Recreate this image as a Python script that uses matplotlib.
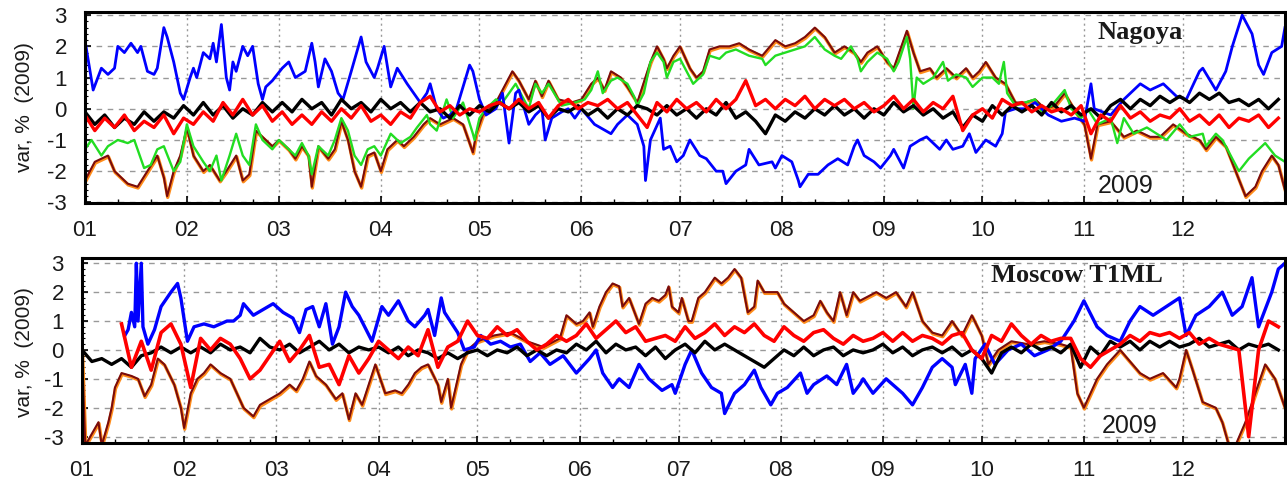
import numpy as np
import matplotlib
matplotlib.use('Agg')
import matplotlib.pyplot as plt
import matplotlib.patheffects as pe

plt.rcParams['font.family'] = ['Liberation Sans', 'DejaVu Sans']

# month starts (day of year 2009) and labels
MONTH_DAYS = [0, 31, 59, 90, 120, 151, 181, 212, 243, 273, 304, 334]
MONTH_LABELS = ['01', '02', '03', '04', '05', '06', '07', '08', '09', '10', '11', '12']
Y_TICKS = [-3, -2, -1, 0, 1, 2, 3]
STEP = 3  # day spacing of the noisy black / red series

# ---------------- Nagoya ----------------
nag_blue = [(0, 2.2), (2.5, 0.6), (5, 1.3), (7, 1.1), (9, 1.3), (10, 2.0), (12, 1.8), (14, 2.1), (16, 1.8),
            (17, 2.0), (19, 1.2), (21, 1.1), (22, 1.3), (24, 2.6), (25, 2.3), (27, 1.5), (29, 0.5), (30, 0.3),
            (32, 1.0), (33, 1.3), (34, 1.0), (36, 1.8), (38, 1.6), (39, 2.1), (40, 1.5), (41.5, 2.7), (43, 1.0),
            (44, 0.6), (45, 1.5), (46, 1.2), (48, 2.0), (49.5, 1.7), (51, 2.0), (52.7, 0.8), (54, 0.3), (55, 0.7),
            (57, 0.9), (60, 1.3), (62, 1.5), (64, 1.0), (67, 1.2), (69, 2.1), (70, 1.5), (71, 0.7), (73, 1.6),
            (75, 1.2), (77, 0.5), (78.5, 0.3), (81, 1.2), (84, 2.3), (85.5, 1.5), (88, 1.0), (89, 1.3), (91, 2.0),
            (93, 0.7), (95, 1.3), (98, 0.8), (100, 0.5), (102, 0.2), (104, 0.5), (105, 0.8), (107, 0.0),
            (109, -0.3), (111, -0.2), (113, 0.0), (117, 1.4), (118, 1.2), (120, 0.3), (122, -0.2), (125, 0.0),
            (127, 0.5), (129, -1.1), (131, 0.5), (132, 0.6), (135, -0.5), (137, -0.2), (139, 0.0), (140, -1.0),
            (142, -0.3), (145, -0.1), (147, 0.0), (149, -0.3), (151, 0.0), (155, -0.5), (160, -0.8), (162, -0.5),
            (165, -0.2), (168, -0.5), (170, -1.2), (170.5, -2.3), (172, -1.0), (175, -0.3), (176, -1.3),
            (178, -1.2), (180, -1.7), (182, -1.5), (184, -1.0), (187, -1.5), (189, -1.6), (192, -2.0),
            (194, -2.0), (195, -2.4), (198, -2.0), (201, -1.8), (202, -1.3), (205, -1.8), (209, -1.7),
            (210, -1.9), (212, -1.5), (215, -1.7), (217, -2.3), (217.5, -2.5), (220, -2.1), (223, -2.1),
            (226, -1.8), (229, -1.6), (232, -1.8), (234, -1.2), (235, -1.0), (237, -1.5), (240, -1.7),
            (242, -1.9), (245, -1.5), (246, -1.3), (249, -1.9), (251, -1.2), (254, -1.0), (256, -0.9),
            (260, -1.3), (262, -1.0), (264, -1.3), (267, -1.2), (269, -0.8), (271, -1.4), (274, -1.0),
            (277, -1.2), (279, -0.8), (280, -0.1), (283, 0.0), (286, 0.0), (289, 0.2), (293, -0.2), (297, -0.4),
            (301, -0.3), (304, -0.4), (306, 0.8), (307, 0.0), (312, -0.2), (316, 0.3), (318, 0.5), (321, 0.8),
            (324, 0.6), (328, 0.8), (332, 0.4), (335, 0.3), (339, 1.2), (340, 1.3), (344, 0.6), (347, 1.2),
            (349, 2.0), (352, 3.0), (355, 2.4), (357, 1.4), (358.5, 1.1), (361, 1.8), (364, 2.0), (365, 2.6)]

nag_green = [(0, -1.3), (2, -1.0), (5, -1.5), (7, -1.2), (10, -1.0), (13, -1.1), (15, -1.0), (18, -1.9),
             (20, -1.8), (22, -1.3), (24, -1.2), (27, -2.0), (29, -1.7), (31, -0.5), (33, -1.2), (36, -1.7),
             (38, -2.0), (40, -1.5), (41.5, -2.3), (44, -1.5), (46, -0.8), (48, -1.5), (50, -1.8), (52, -0.5),
             (54, -1.0), (57, -1.3), (59, -1.0), (62, -1.3), (64, -1.5), (66, -1.1), (68, -1.5), (69, -2.1),
             (71, -1.2), (74, -1.5), (76, -1.0), (78, -0.3), (80, -0.7), (82, -1.5), (84, -1.8), (86, -1.3),
             (88, -1.2), (90, -1.5), (93, -0.8), (96, -1.1), (99, -0.9), (101, -0.6), (104, -0.2), (105, -0.5),
             (107, -0.7), (110, 0.3), (112, -0.3), (115, 0.2), (118, -0.8), (118.5, -1.0), (120, -0.3),
             (122, 0.0), (125, 0.3), (127, 0.2), (131, 0.8), (132, 0.6), (134, 0.2), (135, 0.0), (137, 0.8),
             (139, 0.5), (141, 0.8), (145, 0.1), (149, 0.2), (152, 0.3), (154, 0.6), (156, 1.2), (157.5, 0.5),
             (160, 0.9), (162, 1.0), (165, 0.8), (167, 0.4), (168, 0.1), (170, 0.5), (172, 1.5), (174, 1.8),
             (176, 1.5), (177, 1.0), (179, 1.5), (181, 1.6), (183, 1.2), (185, 0.8), (188, 1.1), (190, 1.7),
             (193, 1.6), (195, 1.8), (198, 1.9), (202, 1.7), (206, 1.6), (207, 1.4), (210, 1.7), (213, 1.8),
             (216, 1.9), (219, 2.0), (222, 2.3), (225, 1.9), (228, 1.7), (230, 1.6), (233, 2.0), (235, 1.6),
             (236, 1.2), (238, 1.5), (241, 1.8), (244, 1.6), (246, 1.2), (247.5, 1.5), (250, 2.3), (251, 1.6),
             (252, 0.0), (253, 1.0), (255, 0.8), (258, 1.0), (261, 1.5), (262.5, 0.9), (265, 1.1), (268, 1.0),
             (270, 0.7), (273, 1.0), (276, 1.0), (278, 0.8), (279.5, 1.5), (280.5, 0.5), (283, 0.1), (286, 0.2),
             (289, 0.3), (291, -0.1), (294, 0.1), (298, 0.6), (300, 0.0), (303, -0.3), (305, 0.0), (308, -0.5),
             (312, -0.3), (314, -1.1), (316, -0.3), (319, -0.8), (323, -0.6), (326, -0.8), (329, -1.0),
             (333, -0.5), (336, -0.9), (340, -0.8), (341, -1.2), (344, -0.8), (346, -1.0), (348, -1.4),
             (351, -2.0), (354, -1.6), (359, -1.1), (362, -1.5), (365, -1.7)]

nag_brown = [(0, -2.3), (3, -1.7), (5, -1.6), (7, -1.5), (9, -2.0), (13, -2.4), (16, -2.5), (19, -2.0),
             (22, -1.5), (24, -2.2), (25, -2.8), (27, -2.0), (29, -1.5), (31, -0.6), (33, -1.5), (36, -2.0),
             (38, -1.8), (41, -2.3), (43, -2.0), (46, -1.5), (48, -2.3), (50, -2.1), (52, -0.7), (55, -1.0),
             (57, -1.2), (59, -1.0), (62, -1.3), (64, -1.6), (66, -1.2), (68, -1.5), (69, -2.5), (71, -1.2),
             (74, -1.6), (76, -1.3), (78, -0.4), (80, -1.0), (82, -2.0), (84, -2.5), (86, -1.5), (88, -1.4),
             (90, -2.0), (92, -1.3), (95, -1.0), (97, -1.2), (100, -0.9), (103, -0.5), (105, -0.3), (108, -0.5),
             (112, -0.3), (115, -0.5), (118, -1.4), (119, -0.8), (121, -0.2), (125, 0.2), (130, 1.2), (132, 0.9),
             (135, 0.3), (137, 0.9), (139, 0.4), (141, 0.9), (144, 0.3), (148, 0.2), (151, 0.3), (154, 0.8),
             (156, 1.0), (158, 0.6), (160, 1.2), (163, 1.0), (165, 0.7), (168, 0.2), (172, 1.5), (174, 2.0),
             (176, 1.6), (177, 1.3), (179, 1.7), (181, 2.0), (184, 1.3), (186, 1.0), (188, 1.2), (190, 1.9),
             (193, 2.0), (196, 2.0), (199, 2.1), (202, 1.9), (206, 1.7), (210, 2.2), (213, 2.0), (216, 2.1),
             (219, 2.3), (222, 2.6), (225, 2.3), (228, 1.8), (231, 2.0), (234, 1.8), (236, 1.5), (238, 1.8),
             (241, 2.0), (244, 1.5), (246, 1.3), (250, 2.5), (252, 1.8), (254, 1.2), (257, 1.3), (259, 1.0),
             (262, 1.3), (265, 1.0), (268, 1.3), (270, 1.0), (272, 1.2), (274, 1.5), (277, 1.0), (280, 0.8),
             (283, 0.2), (286, 0.2), (289, 0.3), (292, 0.0), (295, 0.1), (298, 0.5), (302, -0.2), (304, -0.5),
             (306, -1.6), (308, -0.5), (312, -0.4), (316, -0.9), (320, -0.7), (324, -0.9), (327, -0.9),
             (331, -0.5), (335, -0.8), (339, -1.0), (341, -1.3), (344, -0.9), (347, -1.2), (350, -2.0),
             (353, -2.8), (356, -2.5), (358, -2.0), (361, -1.5), (363, -1.8), (365, -2.6)]

# black / red: one value every 3 days, 10 values (30 days) per row
nag_black = [-0.1, -0.5, -0.2, -0.6, -0.3, -0.5, -0.1, -0.4, -0.1, -0.3,
             0.1, -0.2, 0.2, -0.2, 0.1, -0.3, 0.0, -0.2, 0.2, -0.1,
             0.2, -0.1, 0.3, 0.0, 0.2, -0.2, 0.3, 0.0, 0.2, -0.1,
             0.3, 0.0, 0.2, -0.1, 0.2, -0.1, 0.0, -0.3, 0.1, -0.2,
             0.1, -0.1, 0.2, 0.0, 0.2, -0.1, 0.1, -0.3, 0.0, -0.1,
             0.1, -0.2, 0.0, -0.3, 0.0, -0.2, 0.1, 0.0, -0.2, 0.1,
             -0.2, 0.0, -0.3, 0.0, -0.2, 0.2, -0.3, -0.1, -0.4, -0.8,
             -0.2, -0.4, -0.1, -0.3, 0.0, -0.2, 0.1, -0.2, 0.0, -0.3,
             0.0, -0.2, 0.2, -0.1, 0.1, -0.2, 0.0, -0.3, -0.1, -0.6,
             -0.2, -0.4, 0.1, -0.2, 0.1, -0.1, 0.1, -0.2, 0.2, -0.1,
             0.1, -0.2, 0.0, -0.3, 0.1, 0.3, 0.0, 0.3, 0.1, 0.4,
             0.2, 0.4, 0.2, 0.5, 0.3, 0.5, 0.2, 0.3, 0.1, 0.3,
             0.0, 0.3]

nag_red = [-0.2, -0.7, -0.3, -0.6, -0.2, -0.7, -0.4, -0.6, -0.2, -0.8,
           -0.3, -0.5, -0.1, -0.4, 0.2, -0.2, 0.3, -0.2, 0.1, -0.4,
           -0.1, -0.5, -0.2, -0.5, -0.1, -0.4, 0.0, -0.3, 0.1, -0.4,
           -0.2, -0.5, -0.1, -0.3, 0.2, 0.4, -0.1, 0.1, -0.2, 0.0,
           -0.1, 0.1, 0.2, 0.0, 0.3, 0.0, 0.2, -0.3, 0.1, 0.3,
           0.0, 0.2, 0.1, 0.3, 0.0, 0.2, -0.2, -0.6, 0.2, -0.1,
           0.3, 0.0, 0.2, -0.1, 0.3, 0.0, 0.3, 0.9, 0.1, 0.3,
           0.0, 0.3, 0.1, 0.4, 0.0, 0.3, 0.1, 0.3, 0.0, 0.2,
           -0.1, 0.1, 0.4, 0.0, 0.3, -0.1, 0.2, 0.0, 0.4, -0.7,
           -0.2, 0.0, -0.3, 0.3, 0.1, 0.2, -0.1, 0.1, -0.1, 0.0,
           -0.2, 0.1, -0.8, -0.2, -0.4, 0.1, -0.3, -0.1, -0.4, -0.2,
           -0.3, 0.0, -0.4, -0.2, -0.5, -0.2, -0.6, -0.3, -0.4, -0.2,
           -0.6, -0.3]

# ---------------- Moscow T1ML ----------------
mos_blue = [(13, 0.5), (14, 0.7), (15, 1.3), (16, 0.8), (16.5, 3.0), (17, 1.0), (18, 3.0), (18.5, 0.8),
            (20, 0.2), (22, 0.7), (24, 1.5), (27, 2.0), (29, 2.3), (30, 1.8), (32, 0.3), (34, 0.8), (37, 0.9),
            (40, 0.8), (44, 1.0), (46, 1.0), (48, 1.2), (49, 1.6), (52, 1.2), (55, 1.4), (58, 1.6), (61, 1.3),
            (64, 1.1), (66, 0.6), (68, 1.4), (70, 1.5), (72, 0.8), (74, 1.6), (76, 0.2), (78, 0.8), (80, 2.0),
            (82, 1.5), (84, 1.2), (88, 0.3), (91, 1.5), (93, 1.2), (96, 1.7), (99, 1.0), (101, 0.8), (104, 1.2),
            (105, 1.4), (107, 0.5), (109, 1.8), (110, 1.3), (114, 0.6), (116, 0.0), (119, 0.1), (121, 0.5),
            (124, 0.2), (127, 0.3), (130, 0.1), (133, 0.2), (136, -0.4), (139, -0.1), (142, -0.5), (146, -0.2),
            (150, -0.8), (154, -0.3), (156, 0.0), (158, -0.8), (161, -1.3), (163, -1.0), (166, -1.3),
            (169, -0.5), (172, -1.0), (176, -1.4), (179, -1.2), (180, -1.5), (183, -0.5), (185, 0.0),
            (188, -0.8), (191, -1.3), (194, -1.5), (195, -2.2), (198, -1.5), (201, -1.2), (204, -0.7),
            (206, -1.3), (209, -1.9), (211, -1.5), (214, -1.3), (218, -0.8), (220, -1.5), (222, -1.2),
            (226, -0.9), (229, -1.2), (232, -0.5), (234, -1.5), (236, -1.2), (237, -1.0), (240, -1.5),
            (244, -1.0), (249, -1.5), (252, -1.9), (255, -1.3), (258, -0.6), (261, -0.3), (264, -0.6),
            (265, -1.2), (268, -0.5), (270, -1.5), (271, -0.3), (274, 0.2), (277, -0.5), (281, 0.0), (285, 0.2),
            (289, -0.2), (293, 0.0), (297, 0.3), (301, 1.0), (304, 1.7), (308, 0.8), (311, 0.5), (315, 0.3),
            (318, 1.0), (321, 1.5), (325, 1.2), (329, 1.5), (333, 1.8), (335, 0.5), (338, 1.2), (342, 1.5),
            (346, 2.0), (349, 1.2), (352, 1.5), (355, 2.5), (357, 0.8), (361, 2.0), (363, 2.8), (365, 3.0)]

mos_brown = [(0, 0.0), (1, -3.3), (5, -2.5), (6, -3.3), (8, -2.5), (9, -2.0), (10, -1.3), (12, -0.8),
             (15, -0.9), (17, -1.0), (19, -1.6), (21, -1.2), (23, -0.3), (25, -0.5), (28, -1.2), (30, -2.0),
             (31, -2.7), (33, -1.5), (35, -1.0), (37, -0.8), (39, -0.5), (42, -0.8), (45, -1.0), (47, -1.5),
             (49, -2.0), (52, -2.3), (54, -1.9), (57, -1.7), (60, -1.5), (63, -1.2), (65, -1.4), (67, -1.0),
             (69, -0.4), (71, -0.9), (74, -1.2), (77, -1.7), (79, -1.5), (81, -2.4), (83, -1.5), (85, -1.9),
             (87, -1.2), (89, -0.5), (92, -1.5), (95, -1.4), (97, -1.5), (99, -1.2), (101, -0.8), (103, -0.6),
             (105, -0.5), (108, -1.2), (109, -1.8), (111, -1.0), (112, -2.0), (113, -1.5), (115, -0.5),
             (117, 0.0), (120, 0.3), (125, 0.5), (130, 0.6), (135, 0.3), (140, 0.1), (145, 0.4), (147, 1.2),
             (150, 0.9), (152, 1.0), (154, 1.3), (155, 0.8), (157, 1.5), (159, 2.0), (161, 2.3), (163, 2.2),
             (164, 1.5), (166, 1.8), (168, 1.2), (169, 0.9), (171, 1.6), (173, 1.8), (175, 1.7), (177, 1.9),
             (178, 2.2), (179, 1.5), (181, 1.3), (182, 1.8), (184, 1.0), (185, 1.0), (187, 1.8), (189, 2.0),
             (192, 2.5), (194, 2.3), (196, 2.5), (198, 2.8), (200, 2.5), (202, 1.3), (204, 1.5), (205, 2.4),
             (207, 2.0), (209, 2.0), (211, 2.0), (213, 1.6), (216, 1.3), (219, 1.0), (222, 1.2), (224, 1.7),
             (226, 1.3), (228, 1.0), (230, 2.0), (232, 1.2), (234, 2.0), (236, 1.7), (241, 2.0), (244, 1.8),
             (247, 2.0), (250, 1.5), (252, 2.0), (255, 1.0), (258, 0.6), (261, 0.5), (264, 1.0), (267, 0.5),
             (270, 1.2), (273, 0.5), (275, -0.5), (278, 0.0), (282, 0.3), (287, 0.2), (292, 0.3), (297, 0.2),
             (300, 0.1), (302, -1.5), (304, -2.0), (306, -1.5), (308, -1.0), (311, -0.5), (315, 0.0),
             (318, -0.4), (321, -0.8), (324, -1.0), (328, -0.8), (332, -1.3), (333, -1.0), (335, 0.0),
             (337, -0.7), (340, -1.8), (344, -2.0), (346, -2.5), (348, -3.3), (350, -3.3), (353, -2.5),
             (356, -1.5), (359, -0.5), (362, -1.0), (365, -2.0)]

mos_black = [0.0, -0.4, -0.3, -0.5, -0.3, -0.6, -0.2, -0.1, 0.1, -0.1,
             0.1, -0.1, 0.1, -0.1, 0.2, 0.0, 0.1, -0.1, 0.4, 0.1,
             0.0, 0.2, -0.1, 0.1, 0.3, 0.0, 0.2, -0.1, 0.1, 0.0,
             0.1, -0.1, 0.1, -0.2, 0.0, -0.1, -0.3, -0.1, -0.3, -0.1,
             0.0, -0.2, 0.0, -0.1, 0.1, -0.2, 0.0, -0.2, 0.0, -0.1,
             0.2, 0.0, 0.3, -0.1, 0.2, 0.0, 0.1, -0.2, 0.1, -0.3,
             0.0, 0.2, -0.1, 0.3, 0.0, 0.2, 0.0, -0.2, -0.4, -0.6,
             -0.3, 0.0, -0.2, 0.1, -0.2, 0.0, 0.1, -0.2, 0.0, -0.1,
             0.0, 0.2, -0.1, 0.1, -0.2, 0.0, 0.1, -0.1, 0.1, -0.2,
             0.0, -0.3, -0.8, -0.1, 0.1, -0.1, 0.2, 0.0, 0.1, -0.1,
             0.2, -0.6, 0.1, -0.2, 0.3, 0.1, 0.3, 0.0, 0.3, 0.1,
             0.3, 0.1, 0.2, 0.4, 0.1, 0.2, 0.3, 0.0, 0.2, 0.1,
             0.2, 0.0]

mos_red = [np.nan, np.nan, np.nan, np.nan, 0.9, -0.6, 0.3, -0.7, 0.6, 0.9,
           0.2, -1.3, 0.4, 0.0, 0.4, 0.2, -0.3, -1.0, -0.7, -0.2,
           0.3, -0.4, 0.0, 0.5, -0.6, -0.5, -1.2, -0.2, -0.8, -0.3,
           0.3, 0.0, -0.3, 0.1, -0.2, 0.7, -0.6, 0.1, 0.3, 1.0,
           0.5, 0.4, 0.8, 0.5, 0.7, 0.3, 0.0, 0.2, 0.5, 0.3,
           0.5, 0.9, 0.4, 0.7, 1.0, 0.6, 0.8, 0.3, 0.4, 0.5,
           0.3, 0.8, 0.4, 0.6, 0.9, 0.5, 0.8, 0.6, 0.9, 0.5,
           0.3, 0.8, 0.5, 0.3, 0.6, 0.7, 0.4, 0.2, 0.5, 0.3,
           0.4, 0.6, 0.3, 0.6, 0.3, 0.5, 0.4, 0.2, 0.5, 0.6,
           0.0, -0.3, 0.5, 0.3, 0.9, 0.5, 0.2, 0.5, 0.3, 0.4,
           0.4, -0.3, -0.6, -0.2, 0.0, 0.2, 0.5, 0.3, 0.6, 0.5,
           0.6, 0.4, 0.6, 0.2, 0.4, 0.2, 0.1, 0.0, -3.0, 0.0,
           1.0, 0.8]

BLUE = '#0000ff'
GREEN = '#22dd22'
BROWN = '#7a0c0c'
ORANGE = '#ff8c1a'
RED = '#ff0000'
TEXT = '#1a1a1a'


def unzip(pairs):
    d, v = zip(*pairs)
    return np.array(d), np.array(v)


def grid_days(vals):
    return np.arange(len(vals)) * STEP


def style_axes(ax, ylim):
    ax.set_xlim(0, 365)
    ax.set_ylim(*ylim)
    ax.set_xticks(MONTH_DAYS)
    ax.set_xticklabels(MONTH_LABELS)
    ax.set_xticks([m + d for m in MONTH_DAYS for d in (10, 20)], minor=True)
    ax.set_yticks(Y_TICKS)
    ax.set_yticklabels([str(t) for t in Y_TICKS])
    ax.set_yticks(np.arange(-3, 3.01, 0.2), minor=True)
    ax.tick_params(axis='x', which='major', direction='in', length=5, width=1.2, pad=12,
                   labelsize=16, labelcolor=TEXT, top=False)
    ax.tick_params(axis='x', which='minor', direction='in', length=3, width=1, top=False)
    ax.tick_params(axis='y', which='major', direction='in', length=4, width=1.2, pad=13,
                   labelsize=16, labelcolor=TEXT, right=False)
    ax.tick_params(axis='y', which='minor', direction='in', length=2, width=0.8, right=False)
    for s in ax.spines.values():
        s.set_linewidth(2.2)
    for t in Y_TICKS:
        ax.axhline(t, color='#999999', lw=1.0, ls=(0, (4, 4)), zorder=0)
    for m in MONTH_DAYS[1:]:
        ax.axvline(m, color='#999999', lw=1.0, ls=(0, (1.5, 2.5)), zorder=0)


fig = plt.figure(figsize=(12.87, 4.83), dpi=100)
ax1 = fig.add_axes([0.066, 0.5797, 0.9324, 0.3954])
ax2 = fig.add_axes([0.0637, 0.0828, 0.9347, 0.383])

halo = [pe.Stroke(linewidth=2.4, foreground=ORANGE, offset=(0.4, -0.9)), pe.Normal()]

# top panel
d, v = unzip(nag_brown)
ax1.plot(d, v, color=BROWN, lw=1.5, path_effects=halo)
d, v = unzip(nag_green)
ax1.plot(d, v, color=GREEN, lw=1.7)
d, v = unzip(nag_blue)
ax1.plot(d, v, color=BLUE, lw=2.0)
ax1.plot(grid_days(nag_black), nag_black, color='black', lw=2.4)
ax1.plot(grid_days(nag_red), nag_red, color=RED, lw=2.4)
style_axes(ax1, (-3.02, 3.1))
ax1.text(0.879, 0.895, 'Nagoya', transform=ax1.transAxes, ha='center', va='center',
         fontsize=19, fontweight='bold', family=['Liberation Serif', 'DejaVu Serif'], color=TEXT)
ax1.text(0.867, 0.089, '2009', transform=ax1.transAxes, ha='center', va='center', fontsize=18,
         color=TEXT)

# bottom panel
d, v = unzip(mos_brown)
ax2.plot(d, v, color=BROWN, lw=1.5, path_effects=halo)
d, v = unzip(mos_blue)
ax2.plot(d, v, color=BLUE, lw=2.4)
ax2.plot(grid_days(mos_black), mos_black, color='black', lw=2.4)
ax2.plot(grid_days(mos_red), mos_red, color=RED, lw=2.6)
style_axes(ax2, (-3.22, 3.18))
ax2.text(0.827, 0.903, 'Moscow T1ML', transform=ax2.transAxes, ha='center', va='center',
         fontsize=19, fontweight='bold', family=['Liberation Serif', 'DejaVu Serif'], color=TEXT)
ax2.text(0.871, 0.092, '2009', transform=ax2.transAxes, ha='center', va='center', fontsize=18,
         color=TEXT)

fig.text(25 / 1287, 0.778, 'var, %  (2009)', rotation=90, ha='center', va='center', fontsize=15,
         color=TEXT)
fig.text(25 / 1287, 0.271, 'var, %  (2009)', rotation=90, ha='center', va='center', fontsize=15,
         color=TEXT)

fig.savefig('out.png', dpi=100)
